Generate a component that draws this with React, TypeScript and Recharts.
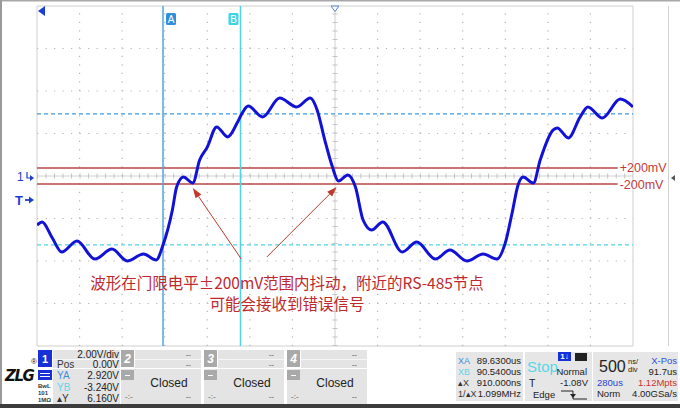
import React from "react";
import { LineChart, Line, XAxis, YAxis, ReferenceLine, ReferenceArea } from "recharts";

// CH1 trace, 2.00 V/div, 500 ns/div
const timeUs = [
  88.15, 88.21, 88.33, 88.44, 88.62, 88.83, 89.03, 89.21, 89.4, 89.55,
  89.63, 89.74, 89.79, 89.87, 89.98, 90.06, 90.15, 90.26, 90.39, 90.5,
  90.56, 90.63, 90.8, 91.0, 91.2, 91.36, 91.44, 91.53, 91.62, 91.69,
  91.8, 91.89, 91.98, 92.08, 92.21, 92.44, 92.61, 92.83, 93.0, 93.2,
  93.39, 93.55, 93.65, 93.73, 93.8, 93.86, 93.98, 94.06, 94.21, 94.26,
  94.39, 94.53, 94.62, 94.79, 95.0, 95.15,
];
const volts = [
  -2.31, -2.16, -2.92, -3.58, -3.06, -3.91, -3.44, -4.0, -3.67, -3.95,
  -3.25, -1.6, -0.52, -0.05, -0.33, 0.75, 1.36, 2.31, 1.84, 2.49,
  2.96, 3.29, 2.78, 3.67, 3.25, 3.67, 3.11, 1.69, 0.42, -0.24,
  0.05, -0.52, -2.07, -2.54, -2.16, -3.58, -3.11, -3.91, -3.48, -4.0,
  -3.67, -3.91, -3.15, -1.74, -0.42, -0.05, -0.33, 0.75, 2.16, 2.26,
  1.79, 2.78, 3.25, 2.73, 3.62, 3.25,
];

const xDomain = [88.15, 95.15];
const yDomain = [-8, 8];
const gridTimes = [88.65, 89.15, 89.65, 90.15, 90.65, 91.15, 92.15, 92.65, 93.15, 93.65, 94.15, 94.65];
const gridVolts = [-6, -4, -2, 2, 4, 6];
const centerTime = 91.65;

const cursorTimes = [89.63, 90.54];
const cursorNames = ["A", "B"];
const cursorVolts = [2.92, -3.24];

const thresholdVolts = [0.38, -0.38];
const thresholdLabels = ["+200mV", "-200mV"];
const thresholdEnd = 94.97;

const arrowTails = [{ t: 90.55, v: -3.91 }, { t: 90.85, v: -3.81 }];
const arrowTips = [{ t: 89.98, v: -0.57 }, { t: 91.67, v: -0.52 }];
const note = ["波形在门限电平±200mV范围内抖动，附近的RS-485节点", "可能会接收到错误信号"];

const ch1Rows = [["Pos", "0.00V"], ["YA", "2.920V"], ["YB", "-3.240V"], ["\u25B4Y", "6.160V"]];
const closedChannels = ["2", "3", "4"];
const cursorRows = [["XA", "89.6300us"], ["XB", "90.5400us"], ["\u25B4X", "910.000ns"], ["1/\u25B4X", "1.099MHz"]];

const data = timeUs.map((t, i) => ({ t, v: volts[i] }));

const cursorColors = ["#52a4de", "#4ed3e6"];
const red = "#b94744";
const sans = "'Liberation Sans', Arial, sans-serif";

function Txt({ x, y, s = 10, c = "#222", a = "left", w = 400, f = sans, children }: any) {
  const style: React.CSSProperties = {
    position: "absolute", top: y, fontSize: s, color: c, fontFamily: f, fontWeight: w,
    lineHeight: 1, whiteSpace: "nowrap", transform: "translateY(-50%)",
  };
  if (a === "left") style.left = x;
  else if (a === "right") style.right = 680 - x;
  else { style.left = x; style.transform = "translate(-50%,-50%)"; }
  return <div style={style}>{children}</div>;
}

function Box({ x, y, w, h, bg }: any) {
  return <div style={{ position: "absolute", left: x, top: y, width: w, height: h, background: bg }} />;
}

const cursorTag = (name: string, fill: string, right: boolean) => (p: any) => {
  const vb = p.viewBox;
  const x = right ? vb.x + 3 : vb.x - 12;
  return (
    <g>
      <rect x={x} y={vb.y + 7} width={10} height={12} rx={1.5} fill={fill} />
      <text x={x + 5} y={vb.y + 17} textAnchor="middle" fill="#fff" fontSize={10} fontFamily={sans}>{name}</text>
    </g>
  );
};

const thresholdTag = (label: string) => (p: any) => {
  const vb = p.viewBox;
  return (
    <text x={vb.x + vb.width + 2} y={vb.y + 4.5} fill="#c23a3a" fontSize={12.5} fontFamily={sans}>{label}</text>
  );
};

const Arrow = (p: any) => {
  const { x1, y1, x2, y2 } = p;
  const a = Math.atan2(y2 - y1, x2 - x1);
  const bx = x2 - 10 * Math.cos(a);
  const by = y2 - 10 * Math.sin(a);
  const px = -Math.sin(a) * 3.5;
  const py = Math.cos(a) * 3.5;
  return (
    <g>
      <line x1={x1} y1={y1} x2={bx} y2={by} stroke="#c0392b" strokeWidth={1} />
      <polygon points={`${x2},${y2} ${bx + px},${by + py} ${bx - px},${by - py}`} fill="#c0392b" />
    </g>
  );
};

export default function App() {
  return (
    <div style={{ position: "absolute", left: 0, top: 0, width: 680, height: 408, background: "#fff", overflow: "hidden" }}>
      <LineChart width={680} height={408} data={data} margin={{ top: 6, right: 47, bottom: 62, left: 37 }}>
        <XAxis dataKey="t" type="number" domain={xDomain} hide allowDataOverflow />
        <YAxis type="number" domain={yDomain} hide allowDataOverflow />
        <ReferenceArea x1={xDomain[0]} x2={xDomain[1]} y1={yDomain[0]} y2={yDomain[1]} fill="none" stroke="#cfcfcf" />
        {gridTimes.map((t) => (
          <ReferenceLine key={"gx" + t} x={t} stroke="#b5b5b5" strokeWidth={1.2} strokeDasharray="1.2 7.3" />
        ))}
        {gridVolts.map((v) => (
          <ReferenceLine key={"gy" + v} y={v} stroke="#b5b5b5" strokeWidth={1.2} strokeDasharray="1.2 7.31" />
        ))}
        <ReferenceLine x={centerTime} stroke="#d0d0d0" />
        <ReferenceLine x={centerTime} stroke="#c4c4c4" strokeWidth={5} strokeDasharray="1 7.5" />
        <ReferenceLine y={0} stroke="#d0d0d0" />
        <ReferenceLine y={0} stroke="#c4c4c4" strokeWidth={5} strokeDasharray="1 7.51" />
        {thresholdVolts.map((v, i) => (
          <ReferenceLine
            key={"th" + i}
            segment={[{ x: xDomain[0], y: v }, { x: thresholdEnd, y: v }]}
            stroke={red}
            strokeWidth={1.5}
            label={thresholdTag(thresholdLabels[i])}
          />
        ))}
        {cursorVolts.map((v, i) => (
          <ReferenceLine key={"cy" + i} y={v} stroke={i === 0 ? "#3f9ae0" : "#52d3e6"} strokeWidth={1.3} strokeDasharray="4 3" />
        ))}
        {cursorTimes.map((t, i) => (
          <ReferenceLine
            key={"cx" + i}
            x={t}
            stroke={cursorColors[i]}
            strokeWidth={1.5}
            label={cursorTag(cursorNames[i], i === 0 ? "#2f8fdf" : "#3fd3e8", i === 0)}
          />
        ))}
        {arrowTails.map((a, i) => (
          <ReferenceLine
            key={"ar" + i}
            segment={[{ x: a.t, y: a.v }, { x: arrowTips[i].t, y: arrowTips[i].v }]}
            shape={Arrow}
          />
        ))}
        <Line dataKey="v" type="monotone" stroke="#1212d6" strokeWidth={3} dot={false} isAnimationActive={false} />
      </LineChart>

      {/* frame and markers */}
      <svg width={680} height={408} style={{ position: "absolute", left: 0, top: 0, pointerEvents: "none" }}>
        <rect x={0} y={0} width={680} height={1.5} fill="#a8a8a8" />
        <rect x={0} y={0} width={2} height={408} fill="#9a9a9a" />
        <line x1={668.5} y1={6} x2={668.5} y2={346} stroke="#d4d4d4" />
        <polygon points="38,11 45,6 45,16" fill="#1a3fd0" />
        <polygon points="331,6 339,6 335,11.5" fill="#fff" stroke="#5b7fd6" strokeWidth={1} />
        <polygon points="671,178 675,175 675,181" fill="#555" />
        <path d="M27,172 L27,178 L31,178" stroke="#1a3fd0" strokeWidth={1.2} fill="none" />
        <polygon points="30,175 34,178 30,181" fill="#1a3fd0" />
        <line x1={25} y1={200} x2={30} y2={200} stroke="#1a3fd0" strokeWidth={1.8} />
        <polygon points="29,196.5 34,200 29,203.5" fill="#1a3fd0" />
        <rect x={0} y={404} width={680} height={4} fill="#3c3c3c" />
      </svg>
      <Txt x={17} y={177} s={12} c="#1a3fd0">1</Txt>
      <Txt x={15} y={200} s={13} c="#1a3fd0" w={700}>T</Txt>

      {note.map((line, i) => (
        <Txt key={i} x={287} y={283 + i * 20.5} s={15.5} c="#c0282d" a="center" f="'Noto Sans CJK SC', sans-serif">{line}</Txt>
      ))}

      {/* bottom panel */}
      <div style={{ position: "absolute", left: 5, top: 369, fontSize: 15, lineHeight: 1, fontWeight: 700, fontStyle: "italic", fontFamily: "'DejaVu Sans', sans-serif", letterSpacing: -1.5, color: "#111" }}>ZLG</div>
      <Txt x={31} y={362} s={8} c="#111">®</Txt>

      <Box x={38} y={350} w={14} h={17} bg="#1830d8" />
      <Txt x={45} y={359} s={11} c="#fff" a="center" w={700}>1</Txt>
      <Box x={53} y={350} w={67} h={18} bg="#e4e4e4" />
      <Box x={53} y={359} w={67} h={1} bg="#f6f6f6" />
      <Txt x={119} y={355} s={10} a="right">2.00V/div</Txt>
      <Box x={38} y={370} w={14} h={10} bg="#1830d8" />
      <Box x={40} y={373} w={10} h={1} bg="#fff" />
      <Box x={40} y={376} w={10} h={1} bg="#fff" />
      <Txt x={38} y={386} s={6} w={700} c="#333">BwL</Txt>
      <Txt x={38} y={393} s={6} w={700} c="#333">101</Txt>
      <Txt x={38} y={399.5} s={6} w={700} c="#333">1MΩ</Txt>
      <Box x={53} y={369} w={67} h={35} bg="#e4e4e4" />
      {ch1Rows.map((r, i) => (
        <React.Fragment key={r[0]}>
          <Txt x={57} y={364.5 + i * 11.5} s={10} c={i === 1 ? "#3a8fe0" : i === 2 ? "#62d5ea" : "#333"}>{r[0]}</Txt>
          <Txt x={119} y={364.5 + i * 11.5} s={10} a="right">{r[1]}</Txt>
        </React.Fragment>
      ))}

      {closedChannels.map((ch, i) => {
        const x0 = 121 + i * 83;
        return (
          <React.Fragment key={ch}>
            <Box x={x0} y={350} w={13} h={17} bg="#a9a9a9" />
            <Txt x={x0 + 6.5} y={359} s={12} c="#fff" a="center" w={700}><i>{ch}</i></Txt>
            <Box x={x0 + 14} y={350} w={66} h={18} bg="#e4e4e4" />
            <Box x={x0 + 14} y={359} w={66} h={1} bg="#f6f6f6" />
            <Txt x={x0 + 70} y={355} s={8} c="#555" a="right">--</Txt>
            <Txt x={x0 + 70} y={365} s={8} c="#555" a="right">--</Txt>
            <Box x={x0} y={369} w={80} h={35} bg="#e4e4e4" />
            <Box x={x0} y={370} w={13} h={10} bg="#a9a9a9" />
            <Box x={x0 + 4} y={375} w={5} h={1} bg="#fff" />
            <Txt x={x0 + 48} y={383} s={12} c="#222" a="center">Closed</Txt>
            <Txt x={x0 + 4} y={397} s={8} c="#555">-:-</Txt>
            <Txt x={x0 + 70} y={397} s={8} c="#555" a="right">--</Txt>
          </React.Fragment>
        );
      })}

      <Box x={456} y={352} w={67} h={49} bg="#e6e6e6" />
      {cursorRows.map((r, i) => (
        <React.Fragment key={r[0]}>
          <Txt x={458} y={361 + i * 11} s={9} c={i === 0 ? "#3a8fe0" : i === 1 ? "#62d5ea" : "#333"}>{r[0]}</Txt>
          <Txt x={521} y={361 + i * 11} s={9.5} a="right">{r[1]}</Txt>
        </React.Fragment>
      ))}

      <Box x={525} y={352} w={67} h={49} bg="#e6e6e6" />
      <Txt x={527} y={366} s={15} c="#5ad6e8">Stop</Txt>
      <Box x={558} y={352} w={13} h={9} bg="#1830d8" />
      <Txt x={564.5} y={357} s={8} c="#fff" a="center" w={700}>1↓</Txt>
      <Box x={575} y={353} w={12} h={8} bg="#222" />
      <Txt x={587} y={372} s={9.5} a="right">Normal</Txt>
      <Txt x={529} y={383} s={10.5}>T</Txt>
      <Txt x={588} y={383} s={9.5} a="right">-1.08V</Txt>
      <Txt x={533} y={395} s={9.5}>Edge</Txt>
      <svg width={30} height={12} style={{ position: "absolute", left: 560, top: 389 }}>
        <path d="M1,2 L13,2 L13,10 L27,10" stroke="#222" strokeWidth={1} fill="none" />
        <polygon points="10,5 16,5 13,9" fill="#222" />
      </svg>

      <Box x={593} y={352} w={85} h={49} bg="#e6e6e6" />
      <Txt x={599} y={367} s={16}>500</Txt>
      <Txt x={628} y={362} s={7.5}>ns/</Txt>
      <Txt x={628} y={370} s={7.5}>div</Txt>
      <Txt x={677} y={361} s={9.5} c="#2f4fd6" a="right">X-Pos</Txt>
      <Txt x={677} y={372} s={9.5} a="right">91.7us</Txt>
      <Txt x={597} y={383} s={9.5} c="#2a3fd0">280us</Txt>
      <Txt x={677} y={383} s={9.5} c="#d03030" a="right">1.12Mpts</Txt>
      <Txt x={597} y={394} s={9.5}>Norm</Txt>
      <Txt x={677} y={394} s={9.5} a="right">4.00GSa/s</Txt>
    </div>
  );
}
